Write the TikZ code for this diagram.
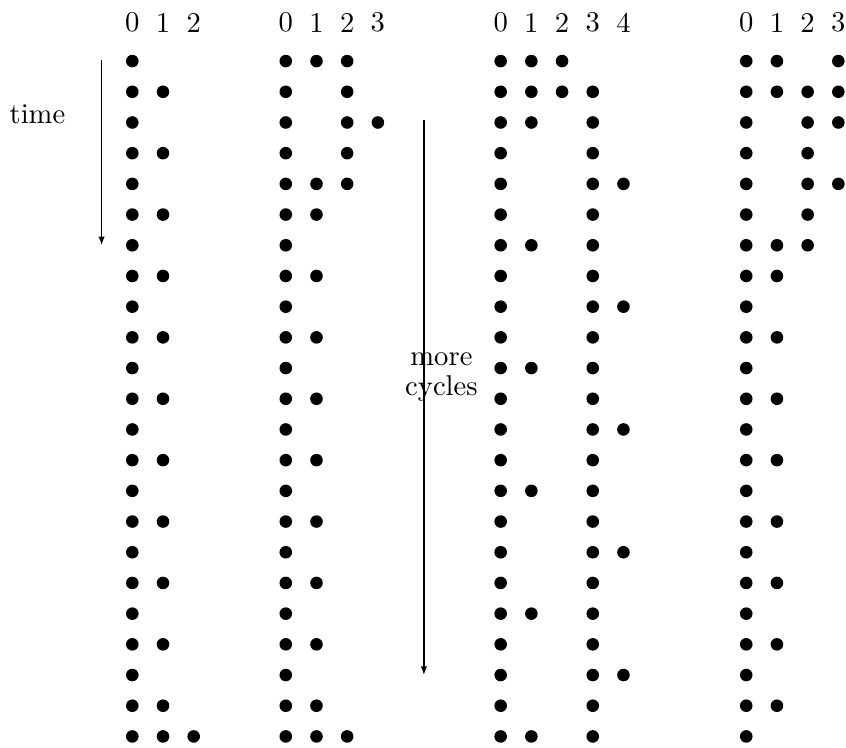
\documentclass[tikz,border=0pt]{standalone}
\usetikzlibrary{arrows.meta}
\newcommand\drow[3]{\foreach \c in {#3} {\fill[dotfill] (#1+\c,-#2) circle (0.205);}}
\begin{document}
\begin{tikzpicture}[x=0.377cm,y=0.377cm,
  dotfill/.style={black},
  hdr/.style={inner sep=0pt},
  lbl/.style={align=center, inner sep=0pt},
  arr/.style={-{Latex[length=3pt,width=2.2pt]}, line width=0.5pt}]
\useasboundingbox (-4.31,-22.36) rectangle (23.25,1.99);
% headers
\foreach \g/\n in {0/2,5/3,12/4,20/3} {
  \foreach \i in {0,...,\n} {\node[hdr] (h-\g-\i) at (\g+\i,1.25) {\i};}
}
% group 1
\foreach \r in {0,...,21} {\drow{0}{\r}{0}}
\foreach \r in {1,3,...,21} {\drow{0}{\r}{1}}
\drow{0}{22}{0,1,2}
% group 2
\drow{5}{0}{0,1,2}
\drow{5}{1}{0,2}
\drow{5}{2}{0,2,3}
\drow{5}{3}{0,2}
\drow{5}{4}{0,1,2}
\drow{5}{5}{0,1}
\foreach \r in {6,...,21} {\drow{5}{\r}{0}}
\foreach \r in {7,9,...,21} {\drow{5}{\r}{1}}
\drow{5}{22}{0,1,2}
% group 3
\drow{12}{0}{0,1,2}
\drow{12}{1}{0,1,2,3}
\drow{12}{2}{0,1,3}
\drow{12}{3}{0,3}
\foreach \r in {4,...,22} {\drow{12}{\r}{0,3}}
\foreach \r in {4,8,...,20} {\drow{12}{\r}{4}}
\foreach \r in {6,10,...,22} {\drow{12}{\r}{1}}
% group 4
\drow{20}{0}{0,1,3}
\drow{20}{1}{0,1,2,3}
\drow{20}{2}{0,2,3}
\drow{20}{3}{0,2}
\drow{20}{4}{0,2,3}
\drow{20}{5}{0,2}
\drow{20}{6}{0,1,2}
\drow{20}{7}{0,1}
\foreach \r in {8,...,22} {\drow{20}{\r}{0}}
\foreach \r in {9,11,...,21} {\drow{20}{\r}{1}}
% labels and arrows
\node[lbl] (time) at (-3.09,-1.72) {time};
\coordinate (ta) at (-1,0.05);
\coordinate (tb) at (-1,-6);
\draw[arr] (ta) -- (tb);
\coordinate (ma) at (9.5,-1.93);
\coordinate (mb) at (9.5,-20);
\draw[arr] (ma) -- (mb);
\node[lbl] (more) at (10.07,-10.29) {more\\[-1.3pt]cycles};
\end{tikzpicture}
\end{document}
